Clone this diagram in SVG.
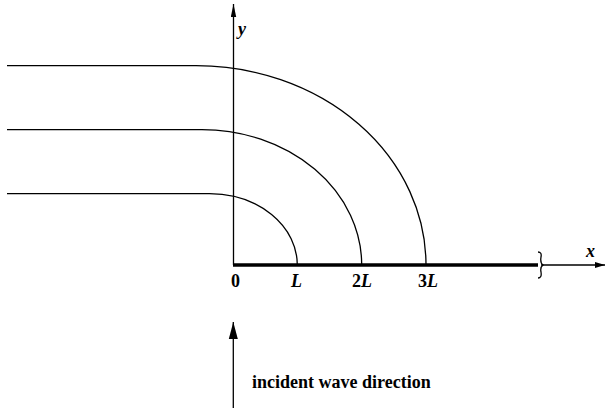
<svg xmlns="http://www.w3.org/2000/svg" width="606" height="409" viewBox="0 0 606 409">
<style>
.ln{fill:none;stroke:#000;stroke-width:1.3}
text{font-family:"Liberation Serif","DejaVu Serif",serif;font-size:18px;font-weight:bold;fill:#000}
.i{font-style:italic}
</style>
<defs>
<marker id="ah" markerWidth="10" markerHeight="10" refX="10" refY="5" orient="auto" markerUnits="userSpaceOnUse">
<path d="M0,2 L10,5 L0,8 Z" fill="#000"/>
</marker>
<marker id="ahs" markerWidth="14" markerHeight="6" refX="13" refY="3" orient="auto" markerUnits="userSpaceOnUse">
<path d="M0,0.3 L13,3 L0,5.7 Z" fill="#000"/>
</marker>
<marker id="ahb" markerWidth="18" markerHeight="10" refX="17" refY="5" orient="auto" markerUnits="userSpaceOnUse">
<path d="M0,0.5 L17,5 L0,9.5 Z" fill="#000"/>
</marker>
</defs>
<g id="axes">
<line class="ln" x1="233.5" y1="265" x2="233.5" y2="4" marker-end="url(#ahs)"/>
<line x1="233" y1="265" x2="538" y2="265" stroke="#000" stroke-width="3.5"/>
<path class="ln" d="M538,252 Q542,252 541,257 Q540,263 543,265 Q540,267 541,272 Q542,278 538,278" stroke-width="1.1"/>
<line class="ln" x1="541" y1="265" x2="605" y2="265" marker-end="url(#ah)"/>
<text class="i" x="238" y="35" font-weight="normal">y</text>
<text class="i" x="586" y="257">x</text>
<text x="231" y="287">0</text>
<text class="i" x="291" y="287">L</text>
<text x="352" y="287">2<tspan class="i">L</tspan></text>
<text x="418" y="287">3<tspan class="i">L</tspan></text>
</g>
<g id="streamlines">
<path class="ln" d="M7,65.7 H196 A230,199.3 0 0 1 426,265"/>
<path class="ln" d="M7,129.7 H201.9 A159.8,135.3 0 0 1 361.7,265"/>
<path class="ln" d="M7,193.7 H209.5 A87.8,71.3 0 0 1 297.3,265"/>
</g>
<g id="incident">
<line class="ln" x1="233.3" y1="408" x2="233.3" y2="322" stroke-width="1.5" marker-end="url(#ahb)"/>
<text x="252" y="388" font-size="18.5">incident wave direction</text>
</g>
</svg>
